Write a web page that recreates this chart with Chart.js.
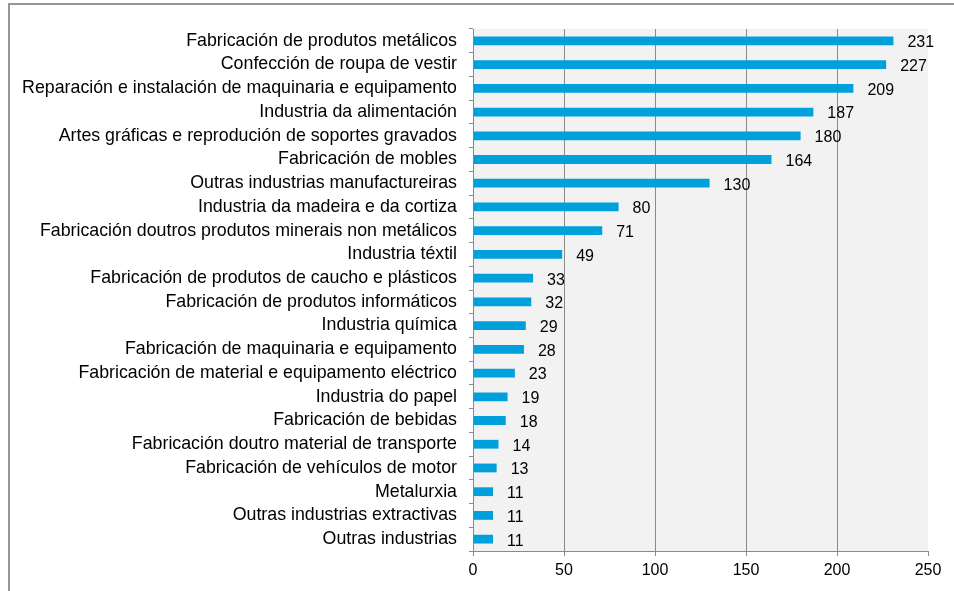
<!DOCTYPE html>
<html>
<head>
<meta charset="utf-8">
<script src="https://cdn.jsdelivr.net/npm/chart.js@4.4.0/dist/chart.umd.min.js"></script>
<style>
    html, body { margin: 0; padding: 0; background: #fff; }
    #wrap { width: 954px; height: 591px; position: relative; }
</style>
</head>
<body>
<div id="wrap"><canvas id="sectorChart"></canvas></div>
<script>
// Categories and values, top to bottom
const categories = [
    'Fabricación de produtos metálicos',
    'Confección de roupa de vestir',
    'Reparación e instalación de maquinaria e equipamento',
    'Industria da alimentación',
    'Artes gráficas e reprodución de soportes gravados',
    'Fabricación de mobles',
    'Outras industrias manufactureiras',
    'Industria da madeira e da cortiza',
    'Fabricación doutros produtos minerais non metálicos',
    'Industria téxtil',
    'Fabricación de produtos de caucho e plásticos',
    'Fabricación de produtos informáticos',
    'Industria química',
    'Fabricación de maquinaria e equipamento',
    'Fabricación de material e equipamento eléctrico',
    'Industria do papel',
    'Fabricación de bebidas',
    'Fabricación doutro material de transporte',
    'Fabricación de vehículos de motor',
    'Metalurxia',
    'Outras industrias extractivas',
    'Outras industrias'
];
const values = [231, 227, 209, 187, 180, 164, 130, 80, 71, 49, 33, 32, 29, 28, 23, 19, 18, 14, 13, 11, 11, 11];
const xTicks = [0, 50, 100, 150, 200, 250];

const FONT = 'Liberation Sans, Arial, sans-serif';
const GRID = '#8a8a8a';

// Frame lines and grey plot background
const framePlugin = {
    id: 'frame',
    beforeDraw(chart) {
        const { ctx, chartArea } = chart;
        ctx.save();
        ctx.fillStyle = '#f2f2f2';
        ctx.fillRect(chartArea.left, chartArea.top, chartArea.right - chartArea.left, chartArea.bottom - chartArea.top);
        ctx.strokeStyle = '#959595';
        ctx.lineWidth = 2;
        ctx.beginPath();
        ctx.moveTo(954, 4);
        ctx.lineTo(9, 4);
        ctx.lineTo(9, 591);
        ctx.stroke();
        ctx.restore();
    }
};

// Value labels to the right of each bar
const valueLabels = {
    id: 'valueLabels',
    afterDatasetsDraw(chart) {
        const { ctx } = chart;
        const meta = chart.getDatasetMeta(0);
        ctx.save();
        ctx.font = '16px ' + FONT;
        ctx.fillStyle = '#000';
        ctx.textBaseline = 'middle';
        ctx.textAlign = 'left';
        meta.data.forEach((bar, i) => {
            ctx.fillText(String(values[i]), bar.x + 14, bar.y + 2);
        });
        ctx.restore();
    }
};

const ctx = document.getElementById('sectorChart').getContext('2d');
new Chart(ctx, {
    type: 'bar',
    data: {
        labels: categories,
        datasets: [{
            data: values,
            backgroundColor: '#00a0dc',
            borderWidth: 0,
            categoryPercentage: 1,
            barPercentage: 0.37
        }]
    },
    options: {
        indexAxis: 'y',
        responsive: true,
        maintainAspectRatio: false,
        animation: false,
        layout: { padding: { left: 0, right: 26, top: 29, bottom: 0 } },
        plugins: {
            legend: { display: false },
            tooltip: { enabled: false }
        },
        scales: {
            x: {
                min: 0,
                max: 250,
                afterBuildTicks(scale) {
                    scale.ticks = xTicks.map(v => ({ value: v }));
                },
                afterFit(scale) { scale.height = 40; },
                border: { color: GRID, width: 1 },
                grid: {
                    color: c => (c.tick && (c.tick.value === 250 || c.tick.value === 0)) ? 'rgba(0,0,0,0)' : GRID,
                    tickColor: GRID,
                    tickLength: 5,
                    lineWidth: 1
                },
                ticks: {
                    color: '#000',
                    font: { family: FONT, size: 16 },
                    padding: 5
                }
            },
            y: {
                afterFit(scale) { scale.width = 473; },
                border: { color: GRID, width: 1 },
                grid: {
                    offset: true,
                    drawOnChartArea: false,
                    color: GRID,
                    tickLength: 4
                },
                ticks: {
                    color: '#000',
                    font: { family: FONT, size: 17.8 },
                    padding: 12,
                    autoSkip: false
                }
            }
        }
    },
    plugins: [framePlugin, valueLabels]
});
</script>
</body>
</html>
